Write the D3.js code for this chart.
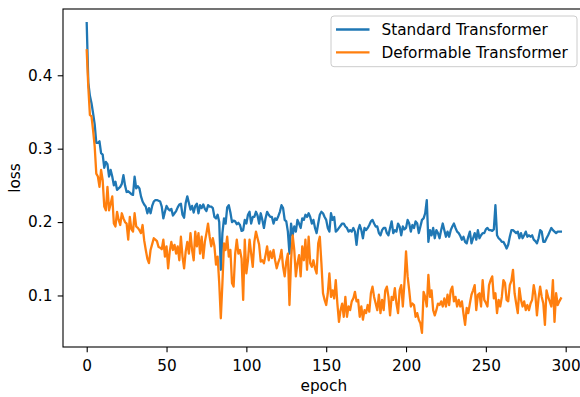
<!DOCTYPE html>
<html>
<head>
<meta charset="utf-8">
<script src="https://cdn.jsdelivr.net/npm/d3@7"></script>
<style>
  body { margin: 0; background: #fff; }
  text { font-family: "DejaVu Sans", sans-serif; }
</style>
</head>
<body>
<div id="chart"></div>
<script>
// loss per epoch
const standardLoss = [
  0.471, 0.390, 0.372, 0.362, 0.348, 0.333, 0.308, 0.308, 0.310, 0.294,
  0.292, 0.274, 0.282, 0.279, 0.262, 0.271, 0.262, 0.250, 0.255, 0.244,
  0.246, 0.248, 0.252, 0.264, 0.250, 0.241, 0.242, 0.240, 0.238, 0.237,
  0.262, 0.246, 0.249, 0.246, 0.235, 0.228, 0.224, 0.221, 0.212, 0.219,
  0.212, 0.222, 0.228, 0.230, 0.230, 0.229, 0.228, 0.221, 0.205,
  0.214, 0.222, 0.218, 0.216, 0.218, 0.209, 0.212, 0.215, 0.220, 0.224,
  0.225, 0.210, 0.206, 0.226, 0.235, 0.226, 0.217, 0.222, 0.213, 0.222,
  0.225, 0.212, 0.223, 0.219, 0.224, 0.218, 0.215, 0.223, 0.221, 0.221,
  0.219, 0.207, 0.205, 0.210, 0.200, 0.135, 0.185, 0.205, 0.198, 0.220,
  0.223, 0.213, 0.200, 0.202, 0.201, 0.197, 0.199, 0.196, 0.188, 0.189,
  0.203, 0.198, 0.210, 0.214, 0.198, 0.207, 0.207, 0.214, 0.209, 0.198,
  0.212, 0.203, 0.192, 0.205, 0.214, 0.210, 0.207, 0.207, 0.198, 0.205,
  0.203, 0.208, 0.214, 0.223, 0.219, 0.203, 0.201, 0.187, 0.157, 0.198,
  0.182, 0.194, 0.187, 0.203, 0.198, 0.192, 0.205, 0.203, 0.210, 0.207,
  0.212, 0.207, 0.198, 0.203, 0.192, 0.185, 0.198, 0.210, 0.214, 0.212,
  0.207, 0.203, 0.192, 0.187, 0.212, 0.203, 0.207, 0.187, 0.189, 0.192,
  0.195, 0.198, 0.198, 0.194, 0.192, 0.187, 0.189, 0.187, 0.192, 0.187,
  0.169, 0.189, 0.196, 0.189, 0.178, 0.192, 0.189, 0.192, 0.196, 0.201,
  0.203, 0.198, 0.194, 0.194, 0.185, 0.182, 0.189, 0.192, 0.192, 0.185,
  0.182, 0.192, 0.201, 0.185, 0.189, 0.187, 0.198, 0.194, 0.182, 0.194,
  0.190, 0.192, 0.203, 0.198, 0.187, 0.196, 0.192, 0.201, 0.198, 0.185,
  0.194, 0.203, 0.205, 0.212, 0.230, 0.173, 0.189, 0.182, 0.192, 0.178,
  0.189, 0.185, 0.178, 0.189, 0.198, 0.189, 0.180, 0.187, 0.180, 0.189,
  0.194, 0.198, 0.192, 0.187, 0.185, 0.181, 0.176, 0.180, 0.173, 0.171,
  0.180, 0.187, 0.171, 0.178, 0.185, 0.176, 0.189, 0.178, 0.182, 0.185,
  0.185, 0.190, 0.192, 0.189, 0.189, 0.188, 0.190, 0.223, 0.182, 0.178,
  0.176, 0.173, 0.173, 0.169, 0.164, 0.169, 0.180, 0.189, 0.189, 0.187,
  0.185, 0.187, 0.178, 0.185, 0.178, 0.182, 0.187, 0.180, 0.182, 0.180,
  0.182, 0.176, 0.174, 0.171, 0.178, 0.189, 0.187, 0.173, 0.173, 0.178,
  0.182, 0.187, 0.192, 0.189, 0.187, 0.185, 0.187, 0.187, 0.187
];
const deformableLoss = [
  0.434, 0.384, 0.346, 0.344, 0.325, 0.303, 0.266, 0.262, 0.248, 0.271,
  0.257, 0.221, 0.216, 0.248, 0.216, 0.225, 0.235, 0.198, 0.194, 0.214,
  0.203, 0.196, 0.212, 0.205, 0.200, 0.198, 0.176, 0.207, 0.190, 0.187,
  0.212, 0.194, 0.192, 0.189, 0.185, 0.196, 0.175, 0.162, 0.150, 0.144,
  0.162, 0.170, 0.178, 0.176, 0.174, 0.166, 0.165, 0.163, 0.176,
  0.153, 0.167, 0.137, 0.160, 0.173, 0.162, 0.169, 0.157, 0.167, 0.148,
  0.180, 0.153, 0.137, 0.160, 0.173, 0.157, 0.185, 0.162, 0.148, 0.187,
  0.167, 0.185, 0.157, 0.180, 0.151, 0.173, 0.185, 0.198, 0.180, 0.167,
  0.178, 0.167, 0.142, 0.153, 0.117, 0.069, 0.117, 0.171, 0.162, 0.180,
  0.153, 0.162, 0.117, 0.112, 0.157, 0.176, 0.157, 0.162, 0.150, 0.094,
  0.176, 0.130, 0.148, 0.176, 0.157, 0.139, 0.173, 0.187, 0.178, 0.169,
  0.146, 0.148, 0.144, 0.155, 0.167, 0.148, 0.160, 0.151, 0.162, 0.148,
  0.137, 0.145, 0.151, 0.162, 0.139, 0.126, 0.146, 0.157, 0.087, 0.148,
  0.182, 0.162, 0.126, 0.144, 0.155, 0.126, 0.167, 0.148, 0.176, 0.135,
  0.180, 0.144, 0.139, 0.148, 0.137, 0.130, 0.171, 0.180, 0.144, 0.103,
  0.094, 0.087, 0.103, 0.130, 0.098, 0.107, 0.096, 0.121, 0.089, 0.064,
  0.080, 0.089, 0.071, 0.098, 0.071, 0.085, 0.080, 0.092, 0.096, 0.105,
  0.092, 0.094, 0.071, 0.085, 0.067, 0.080, 0.076, 0.087, 0.078, 0.103,
  0.112, 0.098, 0.089, 0.080, 0.101, 0.076, 0.094, 0.080, 0.107, 0.112,
  0.098, 0.073, 0.098, 0.094, 0.110, 0.089, 0.076, 0.107, 0.114, 0.085,
  0.117, 0.160, 0.126, 0.107, 0.085, 0.089, 0.087, 0.071, 0.076, 0.067,
  0.062, 0.049, 0.105, 0.098, 0.085, 0.128, 0.098, 0.107, 0.080, 0.073,
  0.080, 0.089, 0.087, 0.092, 0.085, 0.096, 0.085, 0.101, 0.087, 0.107,
  0.112, 0.092, 0.098, 0.085, 0.094, 0.085, 0.092, 0.075, 0.060, 0.083,
  0.076, 0.089, 0.101, 0.107, 0.114, 0.080, 0.101, 0.103, 0.085, 0.121,
  0.094, 0.090, 0.085, 0.114, 0.121, 0.126, 0.096, 0.103, 0.076, 0.094,
  0.085, 0.098, 0.121, 0.117, 0.094, 0.092, 0.114, 0.120, 0.135, 0.103,
  0.089, 0.076, 0.110, 0.094, 0.085, 0.092, 0.080, 0.087, 0.080, 0.089,
  0.094, 0.114, 0.101, 0.073, 0.096, 0.112, 0.098, 0.089, 0.060, 0.107,
  0.098, 0.092, 0.085, 0.121, 0.064, 0.103, 0.087, 0.092, 0.096
];
const epochs = standardLoss.map((d, i) => i);
const xTicks = [0, 50, 100, 150, 200, 250, 300];
const yTicks = [0.1, 0.2, 0.3, 0.4];
const seriesNames = ['Standard Transformer', 'Deformable Transformer'];
const seriesColors = ['#1f77b4', '#ff7f0e'];

const width = 580, height = 397;
const plotLeft = 63, plotTop = 9, plotRight = 584.6, plotBottom = 347;
const fontSize = 15.3;
const lineW = 2.3, tickLen = 5.3;

const svg = d3.select('#chart')
  .append('svg')
  .attr('width', width)
  .attr('height', height);

const xScale = d3.scaleLinear()
  .domain([-14.85, 311.85])
  .range([plotLeft, plotRight]);
const yScale = d3.scaleLinear()
  .domain([0.0298, 0.4903])
  .range([plotBottom, plotTop]);

const line = d3.line()
  .x((d) => xScale(d.epoch))
  .y((d) => yScale(d.value));

svg.append('clipPath').attr('id', 'plotclip')
  .append('rect')
  .attr('x', plotLeft).attr('y', plotTop)
  .attr('width', plotRight - plotLeft).attr('height', plotBottom - plotTop);

const plot = svg.append('g').attr('clip-path', 'url(#plotclip)');
[standardLoss, deformableLoss].forEach(function (values, k) {
  const data = values.map((v, i) => ({ epoch: epochs[i], value: v }));
  plot.append('path')
    .datum(data)
    .attr('fill', 'none')
    .attr('stroke', seriesColors[k])
    .attr('stroke-width', lineW)
    .attr('stroke-linejoin', 'round')
    .attr('stroke-linecap', 'square')
    .attr('d', line);
});

// axes
const xAxis = svg.append('g')
  .attr('transform', `translate(0, ${plotBottom})`)
  .call(d3.axisBottom(xScale).tickValues(xTicks).tickSize(tickLen).tickPadding(5.3).tickFormat(d3.format('d')));
const yAxis = svg.append('g')
  .attr('transform', `translate(${plotLeft}, 0)`)
  .call(d3.axisLeft(yScale).tickValues(yTicks).tickSize(tickLen).tickPadding(5.3).tickFormat(d3.format('.1f')));

[xAxis, yAxis].forEach(function (g) {
  g.select('.domain').remove();
  g.selectAll('.tick line').attr('stroke', '#000').attr('stroke-width', 1.1);
  g.selectAll('.tick text')
    .attr('fill', '#000')
    .style('font-size', fontSize + 'px')
    .style('font-family', '"DejaVu Sans", sans-serif');
});
xAxis.selectAll('.tick text').attr('dy', null).attr('y', 24);

// spines
svg.append('rect')
  .attr('x', plotLeft).attr('y', plotTop)
  .attr('width', plotRight - plotLeft).attr('height', plotBottom - plotTop)
  .attr('fill', 'none')
  .attr('stroke', '#000')
  .attr('stroke-width', 1.1);

svg.append('text')
  .attr('x', (plotLeft + plotRight) / 2)
  .attr('y', 391)
  .attr('text-anchor', 'middle')
  .style('font-size', fontSize + 'px')
  .text('epoch');

svg.append('text')
  .attr('transform', `translate(19.5, ${(plotTop + plotBottom) / 2}) rotate(-90)`)
  .attr('text-anchor', 'middle')
  .style('font-size', fontSize + 'px')
  .text('loss');

// legend
const legend = svg.append('g');
legend.append('rect')
  .attr('x', 331).attr('y', 16)
  .attr('width', 246).attr('height', 50.7)
  .attr('rx', 3)
  .attr('fill', '#fff').attr('fill-opacity', 0.8)
  .attr('stroke', '#ccc').attr('stroke-width', 1);
seriesNames.forEach(function (name, k) {
  const cy = 29.5 + k * 22.8;
  legend.append('line')
    .attr('x1', 336).attr('x2', 369.5)
    .attr('y1', cy).attr('y2', cy)
    .attr('stroke', seriesColors[k])
    .attr('stroke-width', lineW);
  legend.append('text')
    .attr('x', 381.5)
    .attr('y', cy + 5.8)
    .style('font-size', fontSize + 'px')
    .text(name);
});
</script>
</body>
</html>
